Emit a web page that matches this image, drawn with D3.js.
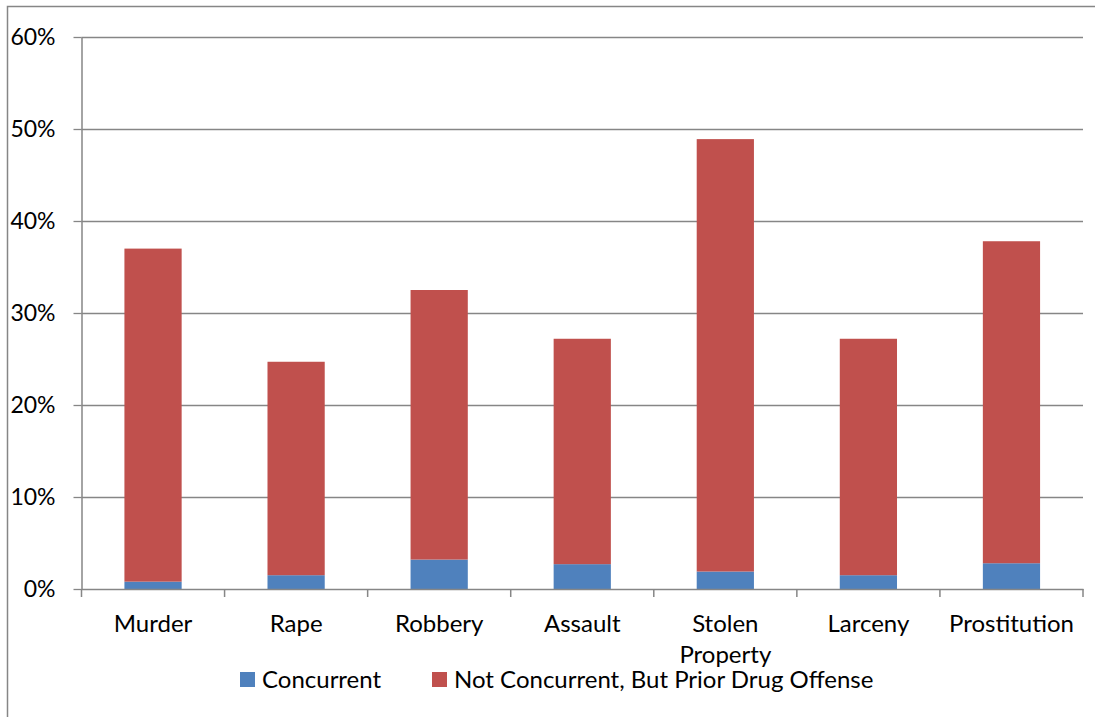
<!DOCTYPE html>
<html>
<head>
<meta charset="utf-8">
<script src="https://cdn.jsdelivr.net/npm/d3@7"></script>
<style>
  html, body { margin: 0; padding: 0; background: #fff; }
  svg { display: block; }
  text { font-family: Lato, "Open Sans", sans-serif; fill: #000; }
</style>
</head>
<body>
<svg id="chart" width="1095" height="717"></svg>
<script>
const categories = ["Murder", "Rape", "Robbery", "Assault", "Stolen Property", "Larceny", "Prostitution"];
const concurrent = [0.8, 1.5, 3.2, 2.7, 1.9, 1.5, 2.8];
const notConcurrent = [36.2, 23.2, 29.3, 24.5, 47.0, 25.7, 35.0];
const seriesNames = ["Concurrent", "Not Concurrent, But Prior Drug Offense"];
const seriesColors = ["#4F81BD", "#C0504D"];
const yTicks = [0, 10, 20, 30, 40, 50, 60];

const svg = d3.select("#chart");
const W = 1095, H = 717;

// outer chart border
svg.append("rect")
  .attr("x", 7.5).attr("y", 6.5)
  .attr("width", W).attr("height", H)
  .attr("fill", "none").attr("stroke", "#868686").attr("stroke-width", 1.5);

const plot = { left: 81.5, right: 1083, top: 37, bottom: 589 };

const x = d3.scaleBand().domain(categories).range([plot.left, plot.right]).paddingInner(0.6).paddingOuter(0.3);
const y = d3.scaleLinear().domain([0, 60]).range([plot.bottom, plot.top]);

// gridlines
svg.append("g").selectAll("line").data(yTicks.filter(d => d > 0)).join("line")
  .attr("x1", plot.left).attr("x2", plot.right)
  .attr("y1", d => Math.round(y(d)) + 0.5).attr("y2", d => Math.round(y(d)) + 0.5)
  .attr("stroke", "#868686").attr("stroke-width", 1.3);

// stacked data
const table = categories.map((c, i) => ({ cat: c, Concurrent: concurrent[i], Not: notConcurrent[i] }));
const stack = d3.stack().keys(["Concurrent", "Not"])(table);

svg.append("g").selectAll("g").data(stack).join("g")
  .attr("fill", (d, i) => seriesColors[i])
  .selectAll("rect").data(d => d).join("rect")
  .attr("x", d => x(d.data.cat))
  .attr("width", x.bandwidth())
  .attr("y", d => y(d[1]))
  .attr("height", d => y(d[0]) - y(d[1]));

// y axis
const yAxis = svg.append("g").attr("transform", `translate(${plot.left},0)`)
  .call(d3.axisLeft(y).tickValues(yTicks).tickFormat(d => d + "%").tickSize(8).tickSizeOuter(0));
yAxis.select(".domain").attr("stroke", "#868686").attr("stroke-width", 1.5);
yAxis.selectAll(".tick line").attr("stroke", "#868686").attr("stroke-width", 1.3);
yAxis.selectAll(".tick text").attr("x", -26).attr("font-size", 23).attr("font-family", "Lato, sans-serif").attr("fill", "#000");

// x axis
const xAxis = svg.append("g").attr("transform", `translate(0,${plot.bottom})`)
  .call(d3.axisBottom(x).tickSize(0).tickFormat(""));
xAxis.select(".domain").attr("stroke", "#868686").attr("stroke-width", 1.5);
xAxis.selectAll(".tick").remove();
// category separator ticks
const bounds = d3.range(categories.length + 1).map(i => plot.left + i * (plot.right - plot.left) / categories.length);
xAxis.selectAll("line.sep").data(bounds).join("line").attr("class", "sep")
  .attr("x1", d => d).attr("x2", d => d).attr("y1", 0).attr("y2", 8)
  .attr("stroke", "#868686").attr("stroke-width", 1.5);

// category labels (wrapped)
const lbl = svg.append("g").selectAll("text").data(categories).join("text")
  .attr("text-anchor", "middle").attr("font-size", 24)
  .attr("x", d => x(d) + x.bandwidth() / 2).attr("y", 632);
lbl.each(function(d) {
  const t = d3.select(this);
  const words = d === "Stolen Property" ? ["Stolen", "Property"] : [d];
  words.forEach((w, i) => t.append("tspan").attr("x", x(d) + x.bandwidth() / 2).attr("dy", i === 0 ? 0 : 31).text(w));
});

// legend
const legend = svg.append("g");
const legendX = [240, 432];
seriesNames.forEach((n, i) => {
  legend.append("rect").attr("x", legendX[i]).attr("y", 672).attr("width", 15).attr("height", 15).attr("fill", seriesColors[i]);
  legend.append("text").attr("x", legendX[i] + 22).attr("y", 687.5).attr("font-size", 24).text(n);
});
</script>
</body>
</html>
